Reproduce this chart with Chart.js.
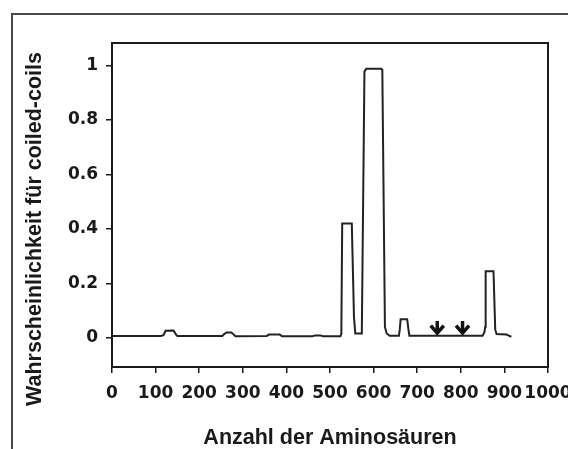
<!DOCTYPE html>
<html><head><meta charset="utf-8">
<script src="https://cdn.jsdelivr.net/npm/chart.js@4.4.1/dist/chart.umd.min.js"></script>
<style>
html,body{margin:0;padding:0;background:#fff;overflow:hidden;}
#wrap{position:relative;width:568px;height:449px;overflow:hidden;background:#fff;}
#frame{position:absolute;left:11px;top:13px;width:700px;height:700px;border-left:2px solid #4a4a4a;border-top:2px solid #4a4a4a;}
canvas{position:absolute;left:0;top:0;}
</style></head><body>
<div id="wrap"><div id="frame"></div><canvas id="c" width="568" height="449"></canvas></div>
<script>
// Amino-acid position (x) and coiled-coil probability (y)
const aminoAcidPositions = [0, 112, 118, 123, 141, 147, 150, 253, 258, 263, 274, 279, 283, 355, 360, 385, 390, 460, 466, 478, 484, 524, 526, 528, 550, 555, 558, 572, 573, 579, 583, 617, 620, 626, 630, 637, 658, 660, 662, 677, 680, 682, 850, 854, 856, 857, 875, 879, 882, 905, 910, 916];
const coiledCoilProbability = [0.007, 0.007, 0.010, 0.026, 0.027, 0.012, 0.007, 0.007, 0.015, 0.020, 0.020, 0.012, 0.006, 0.007, 0.012, 0.012, 0.006, 0.006, 0.009, 0.009, 0.006, 0.006, 0.015, 0.420, 0.420, 0.077, 0.016, 0.016, 0.020, 0.978, 0.988, 0.988, 0.985, 0.040, 0.016, 0.008, 0.008, 0.030, 0.068, 0.068, 0.030, 0.008, 0.008, 0.020, 0.040, 0.245, 0.245, 0.030, 0.014, 0.012, 0.008, 0.004];
const arrowPositions = [746, 804];
const arrowTipValue = 0.012;
const arrowTailValue = 0.062;
const xTickValues = [0, 100, 200, 300, 400, 500, 600, 700, 800, 900, 1000];
const yTickValues = [0, 0.2, 0.4, 0.6, 0.8, 1];
const yTickLabels = ['0', '0.2', '0.4', '0.6', '0.8', '1'];
const xAxisTitle = 'Anzahl der Aminosäuren';
const yAxisTitle = 'Wahrscheinlichkeit für coiled-coils';

const INK = '#1a1a1a';
const TICK_FONT = {family: '"DejaVu Sans", sans-serif', size: 17, weight: 'bold', lineHeight: 1.2};
const TITLE_FAMILY = '"Liberation Sans", Arial, sans-serif';

const points = aminoAcidPositions.map((x, i) => ({x, y: coiledCoilProbability[i]}));

const framePlugin = {
  id: 'plotFrame',
  afterDatasetsDraw(chart) {
    const {ctx, chartArea: a, scales} = chart;
    ctx.save();
    // arrows
    ctx.strokeStyle = '#111';
    ctx.lineCap = 'butt';
    ctx.lineJoin = 'miter';
    arrowPositions.forEach(v => {
      const x = scales.x.getPixelForValue(v);
      const yTip = scales.y.getPixelForValue(arrowTipValue);
      const yTail = scales.y.getPixelForValue(arrowTailValue);
      ctx.lineWidth = 3.5;
      ctx.beginPath();
      ctx.moveTo(x, yTail);
      ctx.lineTo(x, yTip - 2);
      ctx.stroke();
      ctx.lineWidth = 3.6;
      ctx.beginPath();
      ctx.moveTo(x - 6.5, yTip - 9);
      ctx.lineTo(x, yTip - 1.5);
      ctx.lineTo(x + 6.5, yTip - 9);
      ctx.stroke();
    });
    // plot box
    ctx.lineWidth = 2;
    ctx.strokeStyle = INK;
    ctx.strokeRect(a.left, a.top, a.right - a.left, a.bottom - a.top);
    ctx.restore();
  },
  afterDraw(chart) {
    const ctx = chart.ctx;
    ctx.save();
    ctx.translate(35.5, 229);
    ctx.rotate(-Math.PI / 2);
    ctx.font = 'bold 21.5px ' + TITLE_FAMILY;
    ctx.fillStyle = INK;
    ctx.textAlign = 'center';
    ctx.textBaseline = 'middle';
    ctx.fillText(yAxisTitle, 0, 0);
    ctx.restore();
  }
};

new Chart(document.getElementById('c'), {
  type: 'line',
  data: {
    datasets: [{
      data: points,
      borderColor: '#222',
      borderWidth: 2,
      pointRadius: 0,
      tension: 0,
      fill: false
    }]
  },
  options: {
    responsive: false,
    animation: false,
    devicePixelRatio: 1,
    layout: {autoPadding: false, padding: {left: 0, right: 20, top: 43, bottom: 0}},
    plugins: {legend: {display: false}, tooltip: {enabled: false}},
    scales: {
      x: {
        type: 'linear',
        min: 0, max: 1000,
        afterBuildTicks: s => { s.ticks = xTickValues.map(v => ({value: v})); },
        afterFit: s => { s.height = 82; s.paddingLeft = 0; s.paddingRight = 0; },
        grid: {display: true, drawOnChartArea: false, drawTicks: true, tickLength: 6, color: INK, lineWidth: 1.5},
        border: {display: false},
        ticks: {autoSkip: false, maxRotation: 0, minRotation: 0, padding: 10, color: INK, font: TICK_FONT,
                callback: v => String(v)},
        title: {display: true, text: xAxisTitle, color: INK,
                font: {family: TITLE_FAMILY, size: 21.5, weight: 'bold', lineHeight: 1},
                padding: {top: 0, bottom: 0}}
      },
      y: {
        type: 'linear',
        min: -0.107, max: 1.083,
        afterBuildTicks: s => { s.ticks = yTickValues.map(v => ({value: v})); },
        afterFit: s => { s.width = 112; s.paddingTop = 0; s.paddingBottom = 0; },
        grid: {display: true, drawOnChartArea: false, drawTicks: true, tickLength: 6, color: INK, lineWidth: 1.5},
        border: {display: false},
        ticks: {autoSkip: false, padding: 8, color: INK, font: TICK_FONT,
                callback: (v) => { const i = yTickValues.indexOf(v); return i >= 0 ? yTickLabels[i] : ''; }},
        title: {display: false, text: yAxisTitle}
      }
    }
  },
  plugins: [framePlugin]
});
</script>
</body></html>
